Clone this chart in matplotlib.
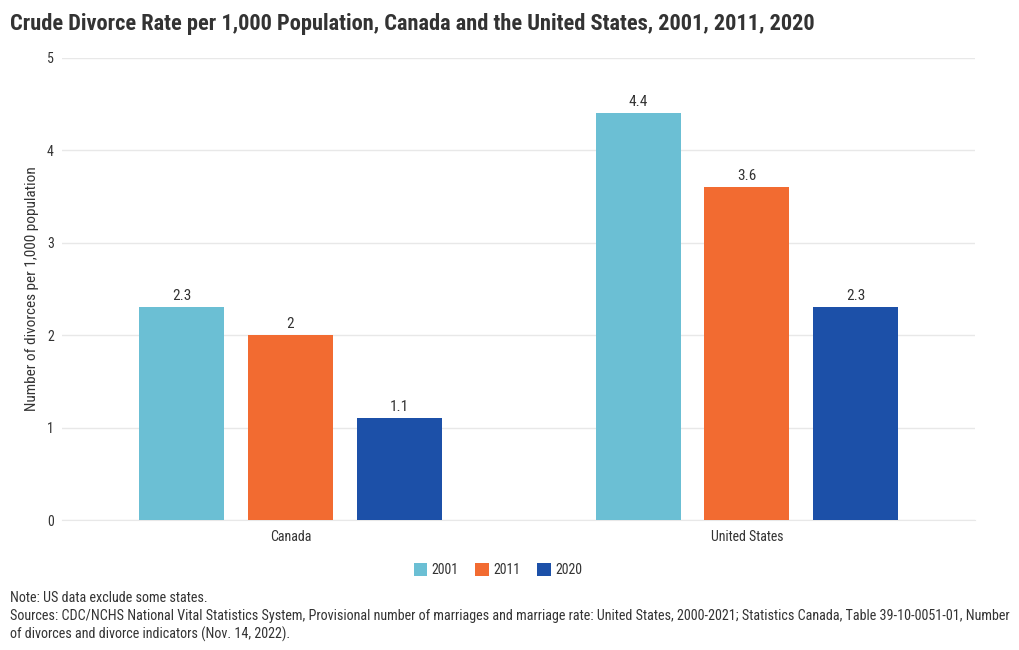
import matplotlib
matplotlib.use("Agg")
import matplotlib.pyplot as plt
import numpy as np

plt.rcParams['font.family'] = ['Roboto Condensed', 'Roboto', 'DejaVu Sans']

countries = ["Canada", "United States"]
years = ["2001", "2011", "2020"]
rate_2001 = [2.3, 4.4]
rate_2011 = [2.0, 3.6]
rate_2020 = [1.1, 2.3]
colors = ["#6bbfd4", "#f26b31", "#1c50a8"]
text_col = "#333333"

fig = plt.figure(figsize=(10.2, 6.5), dpi=100)
ax = fig.add_axes([0.061, 0.2, 0.895, 0.711])

x = np.arange(len(countries))
width = 0.186
step = 0.238
for i, (vals, yr) in enumerate(zip([rate_2001, rate_2011, rate_2020], years)):
    bars = ax.bar(x + (i - 1) * step, vals, width, color=colors[i], label=yr, zorder=3)
    ax.bar_label(bars, labels=[f"{v:g}" for v in vals], padding=3,
                 fontsize=11, color=text_col)

ax.set_xlim(-0.5, 1.5)
ax.set_ylim(0, 5)
ax.set_yticks(range(0, 6))
ax.set_xticks(x)
ax.set_xticklabels(countries)
ax.tick_params(axis='both', length=0, labelsize=10, colors=text_col)
ax.tick_params(axis='y', pad=6)
ax.tick_params(axis='x', pad=7)
ax.grid(axis='y', color='#e8e8e8', linewidth=1, zorder=0)
for s in ['top', 'right', 'left']:
    ax.spines[s].set_visible(False)
ax.spines['bottom'].set_color('#e8e8e8')
ax.set_ylabel("Number of divorces per 1,000 population", fontsize=11,
              color=text_col, labelpad=6)

fig.text(0.01, 0.963, "Crude Divorce Rate per 1,000 Population, Canada and the United States, 2001, 2011, 2020",
         fontsize=16.1, fontweight='bold', color=text_col, va='center')

fig.legend(loc='center', bbox_to_anchor=(0.488, 0.123), ncol=3, frameon=False,
           fontsize=10, handlelength=1.0, handleheight=1.0, handletextpad=0.3,
           columnspacing=1.2, labelcolor=text_col)

note_size = 10.2
fig.text(0.01, 0.08, "Note: US data exclude some states.", fontsize=note_size, color=text_col, va='center')
fig.text(0.01, 0.052, "Sources: CDC/NCHS National Vital Statistics System, Provisional number of marriages and marriage rate: United States, 2000-2021; Statistics Canada, Table 39-10-0051-01, Number",
         fontsize=note_size, color=text_col, va='center')
fig.text(0.01, 0.024, "of divorces and divorce indicators (Nov. 14, 2022).", fontsize=note_size,
         color=text_col, va='center')

fig.savefig("out.png", dpi=100)
